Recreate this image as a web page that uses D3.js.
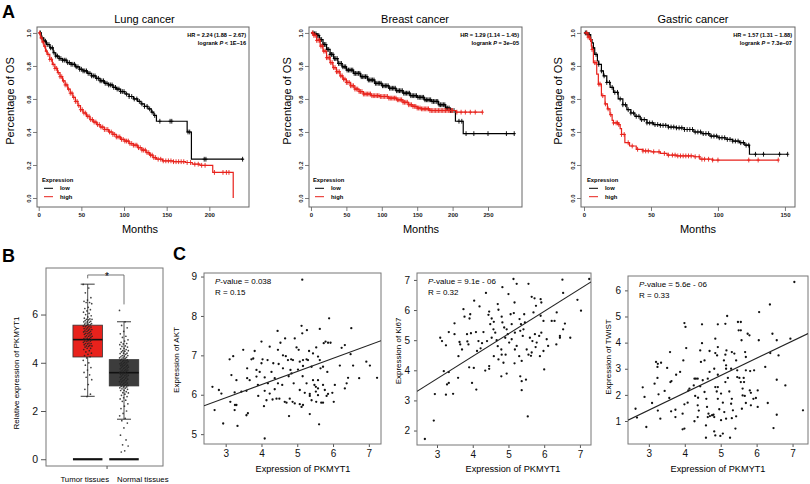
<!DOCTYPE html>
<html><head><meta charset="utf-8">
<script src="https://cdn.jsdelivr.net/npm/d3@7"></script>
<style>body{margin:0;background:#fff} svg{display:block;font-family:"Liberation Sans",Arial,Helvetica,sans-serif}</style>
</head><body><svg id="c" width="810" height="484"></svg>
<script>
// ================= DATA =================
// --- Panel A: Kaplan-Meier ---
const kmTitles = ['Lung cancer', 'Breast cancer', 'Gastric cancer'];
const kmHR = ['HR = 2.24 (1.88 \u2212 2.67)', 'HR = 1.29 (1.14 \u2212 1.45)', 'HR = 1.57 (1.31 \u2212 1.88)'];
const kmLogrank = [['<', '1E\u221216'], ['=', '3e\u221205'], ['=', '7.3e\u221207']];
const kmXTicks = [[0, 50, 100, 150, 200], [0, 50, 100, 150, 200, 250], [0, 50, 100, 150]];
const kmYTicks = [0, 0.2, 0.4, 0.6, 0.8, 1.0];
const kmGroups = ['low', 'high'];

const lungLow = [[0,1.0],[3,0.97],[6,0.95],[9,0.93],[13,0.91],[17,0.88],[20,0.86],[24,0.845],[28,0.835],[33,0.82],[38,0.81],[43,0.795],[48,0.78],[52,0.77],[57,0.755],[62,0.74],[67,0.725],[72,0.71],[77,0.695],[82,0.685],[87,0.67],[91,0.66],[96,0.645],[101,0.63],[106,0.615],[111,0.6],[116,0.585],[120,0.57],[124,0.555],[128,0.54],[132,0.52],[135,0.5],[138,0.465],[174,0.40],[179,0.235],[240,0.235]];
const lungHigh = [[0,1.0],[2,0.97],[4,0.945],[6,0.92],[8,0.89],[10,0.87],[13,0.84],[16,0.81],[19,0.785],[22,0.76],[25,0.735],[28,0.71],[31,0.685],[34,0.66],[37,0.635],[40,0.61],[43,0.585],[46,0.56],[49,0.535],[52,0.515],[56,0.495],[60,0.475],[64,0.46],[68,0.445],[72,0.43],[77,0.415],[82,0.40],[87,0.385],[91,0.37],[96,0.355],[101,0.345],[106,0.33],[111,0.32],[116,0.305],[121,0.29],[126,0.275],[130,0.26],[134,0.245],[138,0.235],[145,0.225],[158,0.22],[172,0.215],[180,0.205],[189,0.198],[204,0.155],[228,0.0]];
const lungLowCensor = [2,4,6,8,10,12,14,16,18,20,22,24,26,28,30,32,34,36,38,40,42,44,46,48,50,52,54,56,58,60,62,64,66,68,70,72,74,76,78,80,82,84,86,88,90,92,94,96,98,100,103,106,109,112,115,118,121,124,127,130,133,136,142,154,156,175,177,194,196,239];
const lungHighCensor = [1,3,5,7,9,11,13,15,17,19,21,23,25,27,29,31,33,35,37,39,41,43,45,47,49,51,53,55,57,59,61,63,65,67,69,71,73,75,77,79,81,83,85,87,89,91,93,95,97,99,101,103,105,107,109,111,113,115,117,119,121,123,125,127,129,131,133,135,137,140,143,146,149,152,155,158,161,164,167,170,174,178,183,187,191,195,206,216,220,223];

const breastLow = [[0,1.0],[5,0.995],[8,0.985],[12,0.96],[17,0.93],[22,0.9],[27,0.87],[32,0.845],[38,0.815],[44,0.795],[50,0.775],[60,0.755],[70,0.735],[80,0.715],[90,0.695],[100,0.68],[110,0.665],[120,0.65],[130,0.635],[140,0.62],[150,0.61],[160,0.595],[170,0.585],[180,0.565],[190,0.545],[197,0.53],[204,0.465],[215,0.39],[288,0.39]];
const breastHigh = [[0,1.0],[4,0.985],[8,0.955],[13,0.92],[17,0.89],[22,0.85],[27,0.82],[31,0.79],[36,0.765],[41,0.74],[45,0.72],[50,0.70],[56,0.68],[62,0.66],[68,0.645],[74,0.63],[85,0.62],[97,0.615],[110,0.605],[121,0.595],[130,0.58],[138,0.565],[144,0.555],[150,0.545],[156,0.54],[168,0.53],[190,0.53],[205,0.52],[242,0.52]];
const breastLowCensor = [3,5,7,9,11,13,15,17,19,21,23,25,27,29,31,33,35,37,39,41,43,45,47,49,51,53,55,57,59,61,63,65,67,69,71,73,75,77,79,81,83,85,87,89,91,93,95,97,99,101,103,105,107,109,111,113,115,117,119,121,123,125,127,129,131,133,135,137,139,141,143,145,147,149,151,153,155,157,159,161,163,165,167,169,171,173,175,177,179,181,183,185,187,189,191,193,195,197,199,202,209,213,219,230,250,276,287];
const breastHighCensor = [2,4,6,8,10,12,14,16,18,20,22,24,26,28,30,32,34,36,38,40,42,44,46,48,50,52,54,56,58,60,62,64,66,68,70,72,74,76,78,80,82,84,86,88,90,92,94,96,98,100,102,104,106,108,110,112,114,116,118,120,122,124,126,128,130,132,134,136,138,140,142,144,146,148,150,152,154,156,158,160,162,164,166,168,170,172,174,176,178,180,182,184,186,188,190,192,194,196,198,200,206,212,218,225,232,242];

const gastricLow = [[0,1.0],[3,0.99],[5,0.96],[6,0.94],[7,0.91],[8,0.87],[10,0.83],[11,0.81],[13,0.77],[14.5,0.74],[17,0.70],[19.5,0.67],[22,0.64],[25.5,0.60],[29,0.565],[32,0.535],[35,0.515],[38,0.495],[42,0.475],[47,0.455],[52,0.445],[57,0.44],[63,0.43],[69,0.425],[75,0.415],[82,0.40],[88,0.39],[94,0.375],[100,0.365],[106,0.355],[111,0.345],[116,0.335],[120,0.32],[123.5,0.265],[152,0.265]];
const gastricHigh = [[0,1.0],[3,0.975],[4.5,0.96],[5.5,0.92],[6,0.90],[7,0.82],[9.5,0.75],[10.7,0.69],[13,0.62],[15.7,0.57],[17.5,0.54],[19.4,0.505],[21,0.47],[22,0.455],[26,0.445],[27,0.42],[28,0.385],[30.5,0.335],[34,0.315],[39,0.295],[44,0.285],[50,0.28],[57,0.27],[62,0.26],[69,0.255],[82,0.25],[86.5,0.235],[96,0.23],[145,0.23]];
const gastricLowCensor = [1,2,3,4,5,7,9,11,13,15,17,19,21,23,25,27,29,31,33,35,37,39,41,43,45,47,49,51,53,55,57,59,61,63,65,67,69,71,73,75,77,79,81,83,85,87,89,91,93,95,97,99,101,103,105,107,109,111,113,115,117,119,121,123,128,134,146,152];
const gastricHighCensor = [2,3,4,5,6,8,9,11,12,14,16,18,20,22,24,25,26,28,30,33,36,40,44,46,48,52,56,60,63,66,68,70,72,74,76,78,80,83,86,88,90,93,96,100,123,130,145];

// --- Panel B: box plot ---
const boxCategories = ['Tumor tissues', 'Normal tissues'];
const boxStats = [ // [lowerWhisker, Q1, median, Q3, upperWhisker]
  [2.61, 4.24, 4.96, 5.56, 7.26],
  [1.66, 3.04, 3.59, 4.13, 5.70]
];
const boxYTicks = [0, 2, 4, 6];
const tumorValues = [7.25,7.1,6.9,6.7,6.6,6.55,6.5,6.5,6.45,6.3,6.25,6.2,6.15,6.1,6.05,6.0,5.95,5.9,5.85,5.82,5.8,5.8,5.78,5.75,5.72,5.7,5.7,5.68,5.65,5.62,5.6,5.6,5.58,5.55,5.52,5.5,5.5,5.48,5.45,5.42,5.4,5.4,5.38,5.35,5.32,5.3,5.3,5.28,5.25,5.22,5.2,5.2,5.18,5.15,5.12,5.1,5.1,5.08,5.05,5.02,5.0,5.0,4.98,4.95,4.92,4.9,4.9,4.88,4.85,4.82,4.8,4.8,4.78,4.75,4.72,4.7,4.7,4.68,4.65,4.6,4.6,4.55,4.5,4.45,4.4,4.35,4.3,4.25,4.2,4.1,4.0,3.9,3.8,3.7,3.6,3.5,3.4,3.3,3.1,2.9,2.7,2.6];
const normalValues = [6.17,5.7,5.55,5.45,5.3,5.2,5.1,5.05,4.95,4.9,4.85,4.8,4.78,4.75,4.7,4.68,4.65,4.6,4.58,4.55,4.5,4.5,4.48,4.45,4.4,4.4,4.38,4.35,4.3,4.3,4.28,4.25,4.22,4.2,4.2,4.18,4.15,4.12,4.1,4.1,4.08,4.06,4.05,4.02,4.0,4.0,3.98,3.96,3.95,3.92,3.9,3.9,3.88,3.86,3.85,3.82,3.8,3.8,3.78,3.76,3.75,3.72,3.7,3.7,3.68,3.66,3.65,3.62,3.6,3.6,3.58,3.56,3.55,3.52,3.5,3.5,3.48,3.46,3.45,3.42,3.4,3.4,3.36,3.35,3.32,3.3,3.3,3.26,3.25,3.22,3.2,3.2,3.16,3.15,3.12,3.1,3.1,3.06,3.05,3.02,3.0,3.0,2.96,2.95,2.92,2.9,2.86,2.85,2.8,2.76,2.75,2.7,2.65,2.6,2.55,2.5,2.45,2.4,2.3,2.2,2.1,2.0,1.9,1.8,1.7,1.6,1.5,1.3,1.0,0.8,0.6,0.55,0.35,0.3];
const bracket = {top: 7.64, leftEnd: 7.5, rightEnd: 6.42, label: '*'};

// --- Panel C: scatter plots ---
const scatterXTicks = [3, 4, 5, 6, 7];
const aktYTicks = [5, 6, 7, 8, 9];
const ki67YTicks = [2, 3, 4, 5, 6, 7];
const twistYTicks = [1, 2, 3, 4, 5, 6];
const scatterStats = [['0.038', '0.15'], ['9.1e - 06', '0.32'], ['5.6e - 06', '0.33']];
const scatterGenes = ['AKT', 'Ki67', 'TWIST'];
const fitLines = [[4.92, 0.334], [1.48, 0.746], [-0.57, 0.662]]; // [intercept, slope]

const aktPoints = [[5.14,8.92],[5.89,7.94],[5.12,7.75],[5.14,7.56],[5.27,7.64],[4.45,7.62],[5.63,7.67],[6.51,7.69],[4.93,7.43],[4.66,7.43],[4.53,7.32],[4.0,7.35],[5.79,7.35],[5.86,7.32],[5.74,7.31],[5.93,7.32],[5.53,7.2],[6.33,7.26],[4.98,7.2],[5.04,7.14],[3.49,7.14],[3.81,7.11],[4.46,7.14],[5.33,7.11],[5.44,7.05],[6.24,7.19],[6.49,7.03],[3.21,6.98],[3.72,6.9],[4.03,6.9],[4.17,6.88],[4.6,7.0],[4.68,6.98],[4.83,6.9],[4.88,6.88],[5.26,6.9],[5.3,6.88],[5.58,6.97],[5.63,6.88],[5.07,6.84],[5.16,6.88],[3.11,6.9],[3.77,6.92],[6.93,6.84],[7.03,6.74],[6.56,6.74],[6.19,6.74],[4.0,6.8],[4.33,6.8],[4.48,6.78],[3.6,6.67],[3.95,6.58],[4.28,6.58],[4.6,6.67],[4.81,6.63],[4.84,6.54],[5.02,6.64],[5.16,6.73],[5.4,6.71],[5.65,6.67],[5.72,6.71],[5.84,6.58],[3.16,6.5],[3.86,6.46],[4.09,6.44],[4.37,6.42],[4.76,6.47],[5.15,6.47],[5.58,6.37],[5.44,6.37],[6.42,6.43],[6.73,6.42],[7.23,6.43],[3.3,6.37],[3.6,6.42],[3.67,6.37],[4.18,6.29],[4.46,6.29],[4.58,6.25],[4.9,6.29],[5.26,6.29],[5.48,6.25],[5.52,6.2],[5.58,6.16],[5.72,6.25],[6.05,6.25],[6.38,6.29],[2.63,6.2],[2.81,6.12],[2.88,6.03],[3.25,6.06],[3.44,6.08],[3.58,6.1],[4.09,6.1],[4.37,6.14],[5.07,6.12],[5.21,6.05],[5.35,6.02],[5.52,6.08],[5.77,6.12],[5.98,6.05],[6.33,6.16],[3.91,5.97],[4.23,6.03],[4.31,5.88],[4.5,5.9],[4.79,5.9],[5.35,5.97],[5.58,5.99],[5.82,5.97],[5.86,6.02],[3.13,5.82],[3.26,5.74],[3.3,5.74],[4.14,5.86],[4.42,5.9],[4.65,5.82],[4.7,5.8],[4.87,5.82],[4.93,5.78],[5.07,5.76],[5.12,5.69],[5.16,5.74],[5.4,5.86],[5.53,5.82],[5.67,5.8],[5.72,5.8],[6.02,5.82],[4.07,5.71],[2.69,5.61],[3.25,5.61],[3.58,5.48],[3.62,5.53],[4.77,5.46],[5.35,5.51],[2.93,5.27],[3.33,5.21],[5.61,5.25],[4.09,4.89],[3.9,6.25],[3.86,6.63],[4.74,6.88],[4.23,7.22]];
const ki67Points = [[2.66,1.72],[2.91,2.33],[2.94,3.21],[3.25,3.19],[3.45,3.22],[3.28,3.53],[3.33,3.58],[3.19,3.97],[3.33,3.94],[3.59,3.75],[3.9,4.1],[4.03,4.08],[3.98,3.58],[4.1,3.36],[4.35,3.99],[4.46,4.14],[4.46,4.05],[4.8,3.8],[4.95,3.89],[5.33,3.8],[5.37,3.64],[5.37,3.34],[5.49,3.69],[5.54,2.47],[6.0,4.03],[3.09,5.08],[3.14,4.97],[3.25,4.83],[3.33,5.27],[3.49,5.56],[3.63,4.94],[3.65,4.86],[3.7,4.69],[3.6,4.47],[3.74,6.03],[3.77,5.78],[3.93,5.86],[3.91,5.72],[3.84,5.2],[3.95,5.23],[4.09,5.27],[4.12,4.64],[4.26,4.9],[4.04,6.31],[4.19,6.12],[4.37,6.57],[4.46,5.95],[4.44,5.84],[4.53,5.72],[4.49,5.53],[4.3,5.27],[4.58,5.36],[4.63,5.25],[4.4,4.97],[4.67,5.0],[4.7,4.8],[4.8,4.69],[4.59,4.47],[4.72,4.36],[4.86,4.25],[4.81,4.52],[4.92,4.52],[4.7,6.2],[4.83,6.76],[4.72,6.01],[4.83,5.59],[4.88,5.42],[4.95,5.36],[4.98,5.2],[4.91,5.08],[5.02,4.92],[5.09,5.03],[5.06,5.86],[5.15,5.9],[5.17,6.25],[5.0,6.53],[5.14,7.03],[5.23,6.87],[5.31,5.7],[5.35,5.53],[5.42,5.36],[5.46,5.59],[5.44,5.86],[5.56,6.87],[5.18,5.25],[5.23,4.81],[5.18,4.69],[5.3,4.47],[5.17,4.23],[5.37,4.31],[5.51,4.69],[5.56,4.52],[5.63,4.48],[5.65,4.59],[5.6,5.08],[5.67,4.97],[5.7,5.92],[5.65,6.44],[5.73,6.39],[5.77,6.14],[5.9,6.36],[5.92,6.25],[5.9,5.81],[5.98,5.64],[5.92,5.25],[5.86,5.14],[5.79,4.92],[5.88,4.47],[5.76,4.77],[5.98,4.64],[6.11,4.81],[6.21,5.64],[6.29,5.64],[6.35,5.92],[6.34,4.86],[6.44,5.14],[6.44,5.08],[6.53,5.36],[6.58,5.55],[6.53,6.57],[6.51,7.01],[6.73,5.08],[6.93,6.34],[7.03,5.98],[7.26,7.03],[3.85,4.96],[3.88,4.86],[4.16,4.97],[4.22,4.73],[4.81,5.78],[4.59,5.61],[5.09,5.53],[5.33,5.31],[5.4,5.14],[6.07,5.03],[5.74,5.2],[4.53,5.08],[3.49,5.2]];
const twistPoints = [[7.05,6.32],[6.37,5.46],[6.07,5.17],[5.56,4.79],[5.48,4.79],[5.18,5.02],[4.92,4.7],[4.48,4.7],[3.99,4.75],[4.02,4.6],[5.5,4.47],[5.56,4.47],[5.75,4.34],[5.8,4.28],[5.13,4.72],[6.44,4.34],[6.94,4.15],[6.56,4.09],[6.06,4.09],[5.58,4.09],[4.85,4.15],[4.48,3.98],[4.43,3.7],[4.69,3.68],[4.85,3.6],[4.9,3.51],[5.13,3.54],[5.31,3.64],[5.38,3.58],[5.43,3.32],[5.68,3.64],[5.7,3.45],[4.04,3.79],[3.59,3.64],[3.2,3.26],[3.25,3.19],[3.34,3.23],[3.24,3.07],[3.51,3.03],[3.96,3.32],[4.55,3.32],[5.09,3.32],[5.15,3.13],[4.82,3.0],[4.45,3.26],[3.87,2.88],[3.76,2.77],[3.6,2.49],[3.63,2.53],[3.16,2.43],[3.24,2.65],[2.83,2.29],[3.44,2.15],[3.27,2.02],[2.88,1.92],[3.09,1.69],[2.63,1.47],[2.67,1.13],[2.93,0.77],[3.25,1.4],[3.32,1.09],[3.62,1.37],[3.74,1.43],[3.57,1.88],[4.13,2.24],[4.1,2.17],[4.27,2.62],[4.31,2.62],[4.36,2.62],[4.25,2.36],[4.43,2.33],[4.29,1.96],[4.37,1.89],[4.08,1.7],[3.99,1.64],[3.94,1.28],[3.99,0.71],[3.94,0.68],[4.27,0.99],[4.36,1.6],[4.39,1.4],[4.55,2.11],[4.6,1.85],[4.62,1.54],[4.66,1.28],[4.64,1.15],[4.7,1.19],[4.76,1.22],[4.8,1.24],[4.82,1.15],[4.59,0.83],[4.59,0.36],[4.82,0.6],[4.85,0.45],[4.99,0.43],[5.06,0.52],[5.26,0.36],[4.85,2.3],[4.92,2.3],[4.89,2.13],[5.01,2.05],[4.92,1.85],[5.06,1.7],[4.96,1.45],[5.1,1.34],[5.01,1.03],[5.15,1.09],[5.13,2.49],[5.2,2.65],[5.24,2.13],[5.31,1.85],[5.29,1.66],[5.34,1.41],[5.31,1.11],[5.43,1.18],[5.41,0.71],[5.46,2.68],[5.52,2.65],[5.56,2.49],[5.61,2.24],[5.65,2.49],[5.61,1.98],[5.67,1.96],[5.81,2.17],[5.84,2.08],[5.91,1.85],[5.84,1.6],[5.98,1.88],[6.03,2.17],[5.7,2.94],[5.82,2.91],[5.93,2.94],[5.64,2.65],[6.24,3.07],[6.38,3.6],[6.61,3.51],[6.56,2.58],[6.8,2.36],[6.56,1.24],[6.47,0.73],[7.29,1.41],[6.31,1.69],[5.7,1.69],[5.59,1.47],[6.03,1.54],[4.36,1.15],[3.74,1.15],[4.92,3.83],[5.16,3.7],[5.15,3.0],[5.29,3.0],[5.46,2.94],[4.69,2.88],[4.92,2.77],[4.64,2.62],[4.5,2.56]];

// ================= DRAWING =================
const svg = d3.select('#c');
const RED = '#e8221c';

// panel letters
[['A', 2, 18], ['B', 2, 262], ['C', 173, 260]].forEach(([t, x, y]) =>
  svg.append('text').attr('x', x).attr('y', y).attr('font-size', 18).attr('font-weight', 'bold').text(t));

// ---------- Panel A ----------
const kmPanels = [
  {box: [37, 27, 249, 207], xd: [-2.0, 246.5], low: lungLow, high: lungHigh, lowC: lungLowCensor, highC: lungHighCensor, titleX: 144.5, monthsX: 140, ylabX: 14, legX: 42},
  {box: [309, 27, 522, 207], xd: [-2.8, 298], low: breastLow, high: breastHigh, lowC: breastLowCensor, highC: breastHighCensor, titleX: 415, monthsX: 421, ylabX: 290.5, legX: 313},
  {box: [581, 27, 795, 207], xd: [-2.24, 157.5], low: gastricLow, high: gastricHigh, lowC: gastricLowCensor, highC: gastricHighCensor, titleX: 693, monthsX: 698, ylabX: 562, legX: 587}
];
const kmYd = [-0.0545, 1.036];
const bis = d3.bisector(d => d[0]).right;

kmPanels.forEach((p, i) => {
  const [L, T, R, B] = p.box;
  const x = d3.scaleLinear().domain(p.xd).range([L, R]);
  const y = d3.scaleLinear().domain(kmYd).range([B, T]);
  const g = svg.append('g');

  const xa = g.append('g').attr('transform', `translate(0,${B})`)
    .call(d3.axisBottom(x).tickValues(kmXTicks[i]).tickSize(4).tickPadding(2).tickFormat(d3.format('d')));
  xa.select('.domain').remove();
  xa.selectAll('line').attr('stroke', '#444').attr('stroke-width', 0.7);
  xa.selectAll('text').attr('font-size', 6).attr('font-family', 'inherit').attr('fill', '#222').attr('font-weight', 'bold');

  const ya = g.append('g').attr('transform', `translate(${L},0)`)
    .call(d3.axisLeft(y).tickValues(kmYTicks).tickSize(4).tickFormat(d3.format('.1f')));
  ya.select('.domain').remove();
  ya.selectAll('line').attr('stroke', '#444').attr('stroke-width', 0.7);
  ya.selectAll('text').attr('font-size', 6).attr('font-family', 'inherit').attr('fill', '#222').attr('font-weight', 'bold')
    .attr('transform', 'rotate(-90)').attr('x', 0).attr('y', -6.5).attr('dy', 0).style('text-anchor', 'middle');

  g.append('rect').attr('x', L).attr('y', T).attr('width', R - L).attr('height', B - T)
    .attr('fill', 'none').attr('stroke', '#666').attr('stroke-width', 1);

  g.append('text').attr('x', p.titleX).attr('y', 23).attr('text-anchor', 'middle').attr('font-size', 11).text(kmTitles[i]);
  g.append('text').attr('x', p.monthsX).attr('y', 233).attr('text-anchor', 'middle').attr('font-size', 11).text('Months');
  g.append('text').attr('transform', `translate(${p.ylabX},101) rotate(-90)`).attr('text-anchor', 'middle').attr('font-size', 11).text('Percentage of OS');

  const clipId = 'km' + i;
  g.append('clipPath').attr('id', clipId).append('rect').attr('x', L).attr('y', T).attr('width', R - L).attr('height', B - T);
  const plot = g.append('g').attr('clip-path', `url(#${clipId})`);
  const line = d3.line().x(d => x(d[0])).y(d => y(d[1])).curve(d3.curveStepAfter);
  [[p.low, p.lowC, '#000'], [p.high, p.highC, RED]].forEach(([steps, cens, col]) => {
    plot.append('path').attr('d', line(steps)).attr('fill', 'none').attr('stroke', col).attr('stroke-width', 1.2);
    const cg = plot.append('g').attr('stroke', col).attr('stroke-width', 0.9);
    cens.forEach(t => {
      const s = steps[Math.max(0, bis(steps, t) - 1)][1];
      const cx = x(t), cy = y(s);
      cg.append('line').attr('x1', cx).attr('x2', cx).attr('y1', cy - 2.4).attr('y2', cy + 2.4);
      cg.append('line').attr('x1', cx - 1.6).attr('x2', cx + 1.6).attr('y1', cy).attr('y2', cy);
    });
  });

  // HR text
  g.append('text').attr('x', R - 3).attr('y', 37).attr('text-anchor', 'end').attr('font-size', 5.6).attr('font-weight', 'bold').text(kmHR[i]);
  const lr = g.append('text').attr('x', R - 3).attr('y', 44.5).attr('text-anchor', 'end').attr('font-size', 5.6).attr('font-weight', 'bold');
  lr.append('tspan').text('logrank ');
  lr.append('tspan').attr('font-style', 'italic').text('P');
  lr.append('tspan').text(' ' + kmLogrank[i][0] + ' ' + kmLogrank[i][1]);

  // legend
  g.append('text').attr('x', p.legX).attr('y', 182).attr('font-size', 5.8).attr('font-weight', 'bold').text('Expression');
  kmGroups.forEach((grp, k) => {
    const ly = 188.3 + k * 8.4;
    g.append('line').attr('x1', p.legX + 2).attr('x2', p.legX + 11).attr('y1', ly).attr('y2', ly)
      .attr('stroke', k === 0 ? '#000' : RED).attr('stroke-width', 1);
    g.append('text').attr('x', p.legX + 18).attr('y', ly + 2).attr('font-size', 5.8).attr('font-weight', 'bold').text(grp);
  });
});

// ---------- Panel B ----------
(function () {
  const L = 46, T = 268, R = 163, B = 466;
  const y = d3.scaleLinear().domain([-0.28, 7.93]).range([B, T]);
  const x = d3.scalePoint().domain(boxCategories).range([87.7, 124]);
  const bw = 29.5;
  const g = svg.append('g');
  g.append('rect').attr('x', L).attr('y', T).attr('width', R - L).attr('height', B - T)
    .attr('fill', 'none').attr('stroke', '#777').attr('stroke-width', 1);

  const ya = g.append('g').attr('transform', `translate(${L},0)`)
    .call(d3.axisLeft(y).tickValues(boxYTicks).tickSize(5).tickPadding(3));
  ya.select('.domain').remove();
  ya.selectAll('line').attr('stroke', '#555');
  ya.selectAll('text').attr('font-size', 10.5).attr('font-family', 'inherit').attr('fill', '#111');

  const mid = (x(boxCategories[0]) + x(boxCategories[1])) / 2 + 1.2;
  g.append('line').attr('x1', mid).attr('x2', mid).attr('y1', B).attr('y2', B + 3).attr('stroke', '#555');
  g.append('text').attr('x', mid + 2).attr('y', 482).attr('text-anchor', 'end').attr('font-size', 7.8).text(boxCategories[0]);
  g.append('text').attr('x', mid + 10).attr('y', 482).attr('font-size', 7.8).text(boxCategories[1]);
  g.append('text').attr('transform', `translate(19,${(T + B) / 2 + 6}) rotate(-90)`).attr('text-anchor', 'middle')
    .attr('font-size', 8).text('Relative expression of PKMYT1');

  const fills = [RED, '#3c3c3c'];
  boxCategories.forEach((c, k) => {
    const cx = x(c);
    const [lw, q1, med, q3, uw] = boxStats[k];
    g.append('line').attr('x1', cx).attr('x2', cx).attr('y1', y(uw)).attr('y2', y(q3)).attr('stroke', '#222').attr('stroke-width', 0.8);
    g.append('line').attr('x1', cx).attr('x2', cx).attr('y1', y(q1)).attr('y2', y(lw)).attr('stroke', '#222').attr('stroke-width', 0.8);
    [uw, lw].forEach(v => g.append('line').attr('x1', cx - 7).attr('x2', cx + 7).attr('y1', y(v)).attr('y2', y(v)).attr('stroke', '#222').attr('stroke-width', 0.9));
    g.append('rect').attr('x', cx - bw / 2).attr('y', y(q3)).attr('width', bw).attr('height', y(q1) - y(q3))
      .attr('fill', fills[k]).attr('stroke', '#333').attr('stroke-width', 0.8);
    g.append('line').attr('x1', cx - bw / 2).attr('x2', cx + bw / 2).attr('y1', y(med)).attr('y2', y(med)).attr('stroke', '#111').attr('stroke-width', 1.6);
    g.append('line').attr('x1', cx - bw / 2).attr('x2', cx + bw / 2).attr('y1', y(0)).attr('y2', y(0)).attr('stroke', '#111').attr('stroke-width', 2.2);
  });

  [[tumorValues, 0], [normalValues, 1]].forEach(([vals, k]) => {
    const cx = x(boxCategories[k]);
    g.append('g').selectAll('circle').data(vals).join('circle')
      .attr('cx', (d, j) => cx + (((j * 0.61803) % 1) - 0.5) * 9)
      .attr('cy', d => y(d)).attr('r', 0.85).attr('fill', '#222').attr('fill-opacity', 0.85);
  });

  const x0 = x(boxCategories[0]), x1 = x(boxCategories[1]);
  g.append('path').attr('d', `M${x0},${y(bracket.leftEnd)}V${y(bracket.top)}H${x1}V${y(bracket.rightEnd)}`)
    .attr('fill', 'none').attr('stroke', '#666').attr('stroke-width', 0.9);
  g.append('text').attr('x', (x0 + x1) / 2 + 1).attr('y', y(bracket.top) + 5).attr('text-anchor', 'middle').attr('font-size', 10).text(bracket.label);
})();

// ---------- Panel C ----------
const scatterPanels = [
  {box: [204, 273, 381, 444], xd: [2.394, 7.34], yd: [4.75, 9.09], yt: aktYTicks, pts: aktPoints, xlabX: 303, ylabX: 179, ylabY: 360},
  {box: [417, 273, 591, 445], xd: [2.44, 7.31], yd: [1.52, 7.23], yt: ki67YTicks, pts: ki67Points, xlabX: 513, ylabX: 400.5, ylabY: 351},
  {box: [628, 276, 808, 444], xd: [2.42, 7.43], yd: [0.12, 6.55], yt: twistYTicks, pts: twistPoints, xlabX: 718, ylabX: 610.5, ylabY: 357}
];
scatterPanels.forEach((p, i) => {
  const [L, T, R, B] = p.box;
  const x = d3.scaleLinear().domain(p.xd).range([L, R]);
  const y = d3.scaleLinear().domain(p.yd).range([B, T]);
  const g = svg.append('g');
  const xa = g.append('g').attr('transform', `translate(0,${B})`)
    .call(d3.axisBottom(x).tickValues(scatterXTicks).tickSize(3).tickPadding(3).tickFormat(d3.format('d')));
  xa.select('.domain').remove();
  xa.selectAll('line').attr('stroke', '#555');
  xa.selectAll('text').attr('font-size', 10).attr('font-family', 'inherit').attr('fill', '#111');
  const ya = g.append('g').attr('transform', `translate(${L},0)`)
    .call(d3.axisLeft(y).tickValues(p.yt).tickSize(3).tickPadding(4).tickFormat(d3.format('d')));
  ya.select('.domain').remove();
  ya.selectAll('line').attr('stroke', '#555');
  ya.selectAll('text').attr('font-size', 10).attr('font-family', 'inherit').attr('fill', '#111');

  g.append('rect').attr('x', L).attr('y', T).attr('width', R - L).attr('height', B - T)
    .attr('fill', 'none').attr('stroke', '#777').attr('stroke-width', 1);

  g.append('text').attr('x', p.xlabX).attr('y', 472).attr('text-anchor', 'middle').attr('font-size', 9.2).text('Expression of PKMYT1');
  g.append('text').attr('transform', `translate(${p.ylabX},${p.ylabY}) rotate(-90)`).attr('text-anchor', 'middle')
    .attr('font-size', 8).text('Expression of ' + scatterGenes[i]);

  const clipId = 'sc' + i;
  g.append('clipPath').attr('id', clipId).append('rect').attr('x', L).attr('y', T).attr('width', R - L).attr('height', B - T);
  const plot = g.append('g').attr('clip-path', `url(#${clipId})`);
  plot.selectAll('circle').data(p.pts).join('circle')
    .attr('cx', d => x(d[0])).attr('cy', d => y(d[1])).attr('r', 1.15).attr('fill', '#111');
  const [a, b] = fitLines[i];
  plot.append('line').attr('x1', x(p.xd[0])).attr('x2', x(p.xd[1]))
    .attr('y1', y(a + b * p.xd[0])).attr('y2', y(a + b * p.xd[1])).attr('stroke', '#222').attr('stroke-width', 1.1);

  const t1 = g.append('text').attr('x', L + 11).attr('y', T + 11).attr('font-size', 8);
  t1.append('tspan').attr('font-style', 'italic').text('P');
  t1.append('tspan').text('-value = ' + scatterStats[i][0]);
  g.append('text').attr('x', L + 11).attr('y', T + 22).attr('font-size', 8).text('R = ' + scatterStats[i][1]);
});
</script></body></html>
